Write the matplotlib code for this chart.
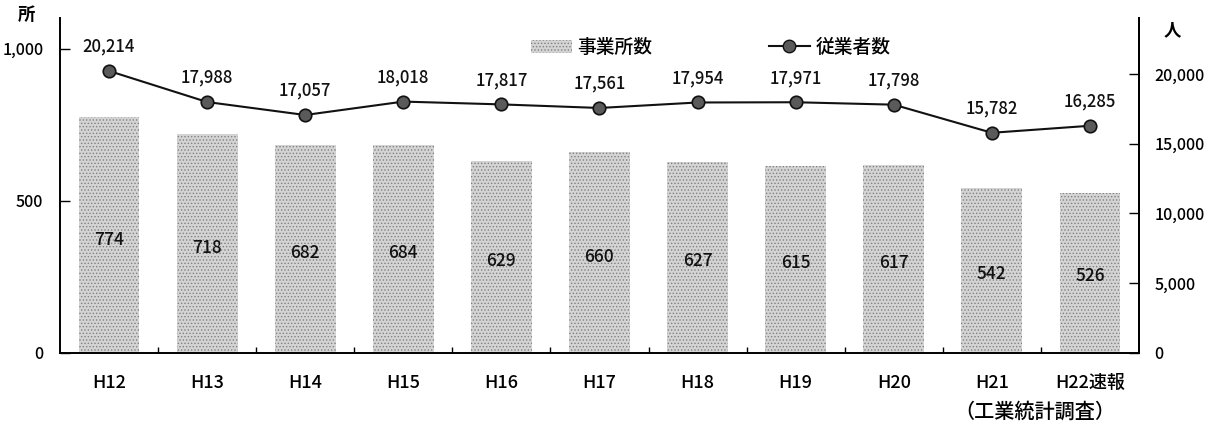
import matplotlib
matplotlib.use("Agg")
import matplotlib.pyplot as plt
from matplotlib.lines import Line2D
from matplotlib.patches import Patch
import numpy as np

plt.rcParams['font.family'] = ['Noto Sans CJK JP', 'DejaVu Sans']
plt.rcParams['font.weight'] = 'medium'
plt.rcParams['hatch.linewidth'] = 0.6

years = ["H12", "H13", "H14", "H15", "H16", "H17", "H18", "H19", "H20", "H21", "H22速報"]
establishments = [774, 718, 682, 684, 629, 660, 627, 615, 617, 542, 526]
employees = [20214, 17988, 17057, 18018, 17817, 17561, 17954, 17971, 17798, 15782, 16285]

left_ticks = [0, 500, 1000]
right_ticks = [0, 5000, 10000, 15000, 20000]

fig = plt.figure(figsize=(12.16, 4.32), dpi=100)
ax = fig.add_axes([0.0493, 0.183, 0.8874, 0.775])
ax2 = ax.twinx()

x = np.arange(len(years))
bar_face = '#d4d4d4'
bar_hatch = '#808080'
ax.bar(x, establishments, width=0.62, color=bar_face, edgecolor=bar_hatch,
       hatch='.....', linewidth=0, zorder=2)
for xi, v in zip(x, establishments):
    ax.text(xi, v * 0.48, f"{v}", ha='center', va='center', fontsize=12.5,
            color='#111111', zorder=3)

ax.set_xlim(-0.5, len(years) - 0.5)
ax.set_ylim(0, 1100)
ax.set_yticks(left_ticks)
ax.set_yticklabels([f"{t:,}" for t in left_ticks], fontsize=11.5)
ax.set_xticks(x)
ax.set_xticklabels(years, fontsize=13)
ax.set_xticks(np.arange(0.5, len(years) - 1, 1.0), minor=True)
ax.tick_params(axis='x', which='major', length=0, pad=15)
ax.tick_params(axis='x', which='minor', direction='in', length=4, width=1)
ax.tick_params(axis='y', direction='in', length=7, width=1, pad=12)
ax.spines['top'].set_visible(False)
for s in ('left', 'bottom', 'right'):
    ax.spines[s].set_linewidth(1.4)

ax2.plot(x, employees, color='#111111', linewidth=1.5, marker='o',
         markersize=9, markerfacecolor='#5a5a5a', markeredgecolor='#111111',
         markeredgewidth=1.2, zorder=4)
for xi, v in zip(x, employees):
    ax2.annotate(f"{v:,}", (xi, v), xytext=(0, 11), textcoords='offset points',
                 ha='center', va='bottom', fontsize=12, color='#111111')
ax2.set_ylim(0, 24000)
ax2.set_yticks(right_ticks)
ax2.set_yticklabels([f"{t:,}" for t in right_ticks], fontsize=11.5)
ax2.tick_params(axis='y', direction='in', length=7, width=1, pad=11)
ax2.spines['top'].set_visible(False)
ax2.spines['right'].set_linewidth(1.4)
ax2.spines['left'].set_visible(False)
ax2.spines['bottom'].set_visible(False)

fig.text(18 / 1216, 1 - 15 / 432, "所", fontsize=12.5, fontweight='bold',
         ha='left', va='center')
fig.text(1172 / 1216, 1 - 30 / 432, "人", fontsize=12.5, fontweight='bold',
         ha='center', va='center')
fig.text(1035 / 1216, 1 - 412 / 432, "（工業統計調査）", fontsize=14.5,
         ha='center', va='center')

handles = [
    Patch(facecolor=bar_face, edgecolor=bar_hatch, hatch='.....', linewidth=0),
    Line2D([0], [0], color='#111111', linewidth=1.5, marker='o', markersize=9,
           markerfacecolor='#5a5a5a', markeredgecolor='#111111'),
]
ax2.legend(handles, ["事業所数", "従業者数"], ncol=2, frameon=False,
           loc='center', bbox_to_anchor=(0.603, 0.913), fontsize=13.5,
           handlelength=2.2, columnspacing=6.2, handletextpad=0.3)

fig.savefig("out.png", dpi=100)
